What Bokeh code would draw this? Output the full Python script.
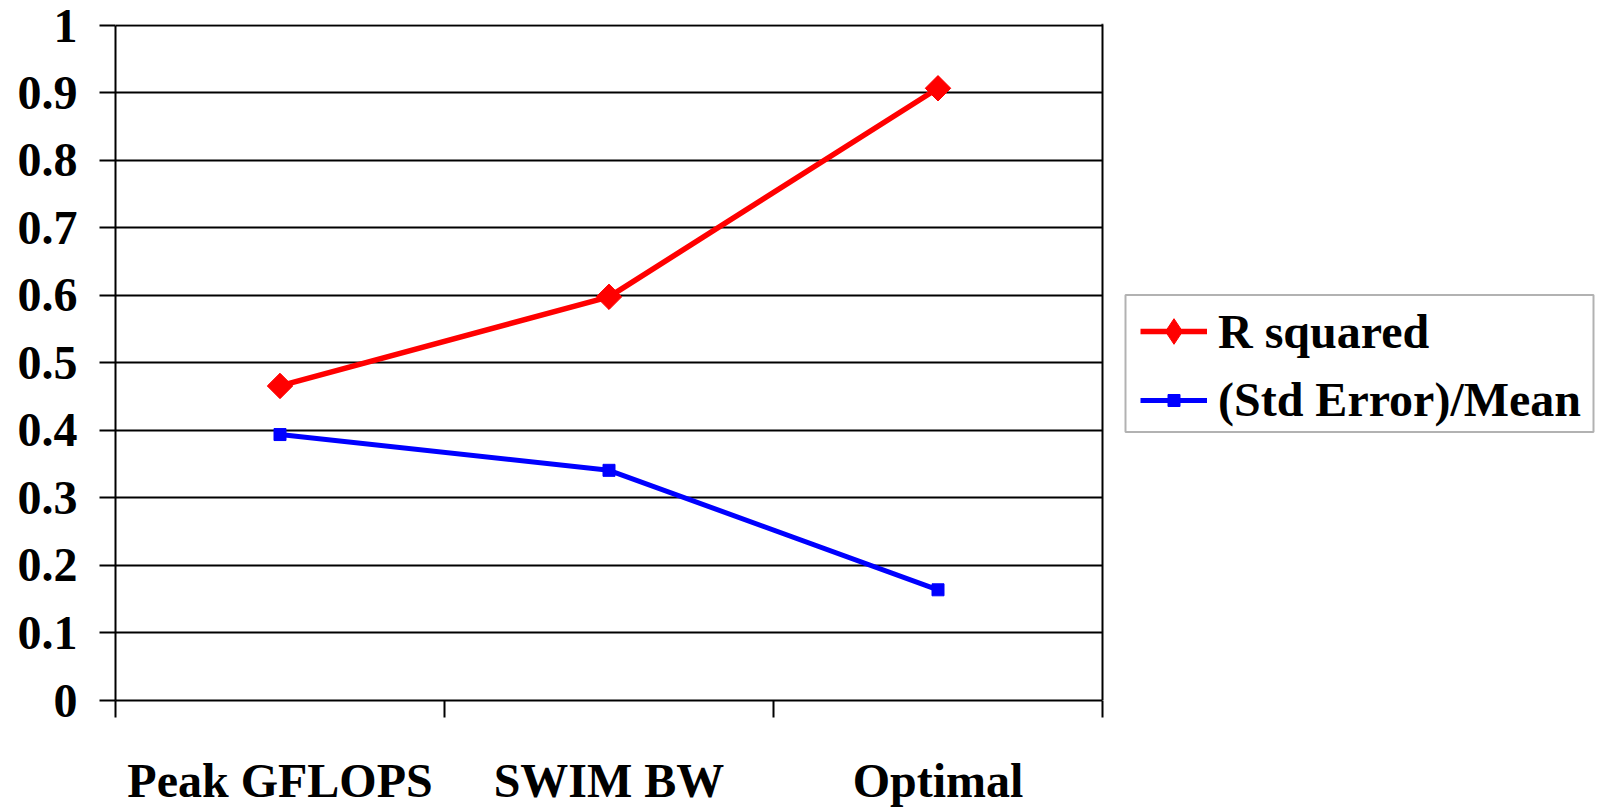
import math
from bokeh.plotting import figure
from bokeh.models import (FixedTicker, NumeralTickFormatter, Range1d, Legend, LegendItem,
                          ColumnDataSource, BoxAnnotation, Span)
from bokeh.embed import file_html
from bokeh.resources import INLINE

categories = ["Peak GFLOPS", "SWIM BW", "Optimal"]
r_squared = [0.466, 0.598, 0.907]
std_err_mean = [0.394, 0.341, 0.164]
y_ticks = [0, 0.1, 0.2, 0.3, 0.4, 0.5, 0.6, 0.7, 0.8, 0.9, 1.0]
series_names = ["R squared", "(Std Error)/Mean"]

FONT = "Liberation Serif"
RED = "#FF0000"
BLUE = "#0000FF"

# layout (pixels)
W, H = 1600, 809
FL, FT, FB = 115, 25, 701          # frame left / top (value 1) / bottom (value 0)
PAD_T = 2                          # extra pixels above the value 1 so its gridline is drawn
PLOT_R = 1102                      # right edge of the category area
n = len(categories)
px_per_x = (PLOT_R - FL) / n
px_per_y = (FB - FT) / 1.0
x_end = (W - FL) / px_per_x
y_end = 1.0 + PAD_T / px_per_y

xpos = [i + 0.5 for i in range(n)]
src = ColumnDataSource(data=dict(x=xpos, r=r_squared, s=std_err_mean))

p = figure(width=W, height=H, output_backend="svg", toolbar_location=None,
           x_range=Range1d(0, x_end), y_range=Range1d(0, y_end),
           min_border_left=FL, min_border_right=0, min_border_top=FT - PAD_T,
           min_border_bottom=H - FB)

p.outline_line_color = None
p.background_fill_color = "white"
p.border_fill_color = "white"

# y axis
p.yaxis.ticker = FixedTicker(ticks=y_ticks)
p.yaxis.formatter = NumeralTickFormatter(format="0.[0]")
p.yaxis.bounds = (0, 1)
p.yaxis.major_tick_out = 16
p.yaxis.major_tick_in = 0
p.yaxis.minor_tick_out = 0
p.yaxis.minor_tick_in = 0
p.yaxis.axis_line_width = 2
p.yaxis.major_tick_line_width = 2
p.yaxis.axis_line_color = "black"
p.yaxis.major_tick_line_color = "black"
p.yaxis.major_label_text_font = FONT
p.yaxis.major_label_text_font_style = "bold"
p.yaxis.major_label_text_font_size = "48px"
p.yaxis.major_label_text_color = "black"
p.yaxis.major_label_standoff = 22

# x axis: labels at category centres, ticks at boundaries
p.xaxis.ticker = FixedTicker(ticks=xpos, minor_ticks=list(range(n + 1)))
p.xaxis.major_label_overrides = {x: c for x, c in zip(xpos, categories)}
p.xaxis.bounds = (0, n)
p.xaxis.major_tick_out = 0
p.xaxis.major_tick_in = 0
p.xaxis.minor_tick_out = 17
p.xaxis.minor_tick_in = 0
p.xaxis.minor_tick_line_width = 2
p.xaxis.minor_tick_line_color = "black"
p.xaxis.axis_line_width = 2
p.xaxis.axis_line_color = "black"
p.xaxis.major_label_text_font = FONT
p.xaxis.major_label_text_font_style = "bold"
p.xaxis.major_label_text_font_size = "48px"
p.xaxis.major_label_text_color = "black"
p.xaxis.major_label_standoff = 36

p.xgrid.visible = False
p.ygrid.ticker = FixedTicker(ticks=y_ticks)
p.ygrid.grid_line_color = "black"
p.ygrid.grid_line_width = 2
p.ygrid.grid_line_alpha = 1.0

l1 = p.line("x", "r", source=src, line_color=RED, line_width=5.5)
d1 = p.scatter("x", "r", source=src, marker="diamond", size=24,
               fill_color=RED, line_color=RED)
p.scatter("x", "r", source=src, marker="square", size=18, angle=math.pi / 4,
          fill_color=RED, line_color=RED)
l2 = p.line("x", "s", source=src, line_color=BLUE, line_width=5)
m2 = p.scatter("x", "s", source=src, marker="square", size=12,
               fill_color=BLUE, line_color=BLUE)

# blank out the area right of the category area and above value 1, and draw the border
p.add_layout(BoxAnnotation(left=n, fill_color="white", fill_alpha=1.0, line_color=None))
p.add_layout(BoxAnnotation(bottom=1.0 + 1.2 / px_per_y, fill_color="white", fill_alpha=1.0,
                           line_color=None))
p.add_layout(Span(location=n, dimension="height", line_color="black", line_width=2))
p.add_layout(BoxAnnotation(left=n, bottom=1.0 + 1.2 / px_per_y, fill_color="white",
                           fill_alpha=1.0, line_color=None))

# legend box
LB_L, LB_R, LB_T, LB_B = 1125, 1593, 295, 432
p.add_layout(BoxAnnotation(left=(LB_L - FL) / px_per_x, right=(LB_R - FL) / px_per_x,
                           bottom=(FB - LB_B) / px_per_y, top=(FB - LB_T) / px_per_y,
                           fill_color="white", fill_alpha=1.0,
                           line_color="black", line_width=2))


def make_legend(label, renderers, gh, loc):
    leg = Legend(items=[LegendItem(label=label, renderers=renderers)], location=loc)
    leg.label_text_font = FONT
    leg.label_text_font_style = "bold"
    leg.label_text_font_size = "48px"
    leg.label_text_color = "black"
    leg.glyph_width = 67
    leg.glyph_height = gh
    leg.label_height = gh
    leg.label_standoff = 11
    leg.spacing = 0
    leg.padding = 0
    leg.margin = 0
    leg.border_line_color = None
    leg.background_fill_alpha = 0
    return leg


p.add_layout(make_legend(series_names[0], [l1, d1], 64, (1140 - FL, FB - 364)), "center")
p.add_layout(make_legend(series_names[1], [l2, m2], 30, (1140 - FL, FB - 428)), "center")

open("out.html", "w").write(file_html(p, INLINE))
